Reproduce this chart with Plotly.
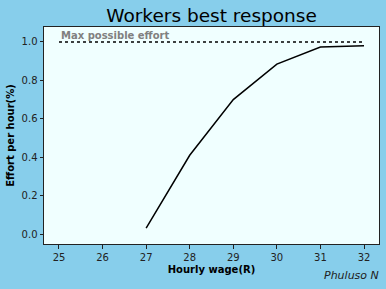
import plotly.graph_objects as go

wages = [27, 28, 29, 30, 31, 32]
effort = [0.031, 0.41, 0.70, 0.885, 0.974, 0.98]
max_x = [25, 32]
max_y = [1.0, 1.0]
x_ticks = [25, 26, 27, 28, 29, 30, 31, 32]
y_ticks = [0.0, 0.2, 0.4, 0.6, 0.8, 1.0]

fig = go.Figure()
fig.add_trace(go.Scatter(x=max_x, y=max_y, mode="lines",
                         line=dict(color="black", width=1.5, dash="dot"), showlegend=False))
fig.add_trace(go.Scatter(x=wages, y=effort, mode="lines",
                         line=dict(color="black", width=1.5), showlegend=False))

fig.add_annotation(x=25, y=1.0, xref="x", yref="y", text="<b>Max possible effort</b>",
                   showarrow=False, xanchor="left", yanchor="bottom", yshift=-1,
                   font=dict(family="DejaVu Sans", size=10, color="gray"))
fig.add_annotation(x=1, y=0, xref="paper", yref="paper", text="<i>Phuluso N</i>",
                   showarrow=False, xanchor="right", yanchor="top", yshift=-23, xshift=2,
                   font=dict(family="DejaVu Sans", size=11, color="#222"))

axis_common = dict(showline=True, linecolor="#222", linewidth=1, mirror=True,
                   ticks="outside", ticklen=3.5, tickcolor="#222", showgrid=False,
                   zeroline=False, tickfont=dict(family="DejaVu Sans", size=10, color="#222"))

fig.update_xaxes(range=[24.656, 32.344], tickvals=x_ticks,
                 title=dict(text="<b>Hourly wage(R)</b>", standoff=4,
                            font=dict(family="DejaVu Sans", size=10, color="black")),
                 **axis_common)
fig.update_yaxes(range=[-0.052, 1.078], tickvals=y_ticks, tickformat=".1f",
                 title=dict(text="<b>Effort per hour(%)</b>", standoff=5,
                            font=dict(family="DejaVu Sans", size=10, color="black")),
                 **axis_common)

fig.update_layout(
    width=386, height=289,
    margin=dict(l=44, r=7, t=27, b=45),
    paper_bgcolor="#87CEEB", plot_bgcolor="#F0FFFF",
    title=dict(text="Workers best response", x=0.548, xanchor="center", y=0.948, yanchor="middle",
               font=dict(family="DejaVu Sans", size=18.5, color="black")),
)

fig.write_html("out.html")
